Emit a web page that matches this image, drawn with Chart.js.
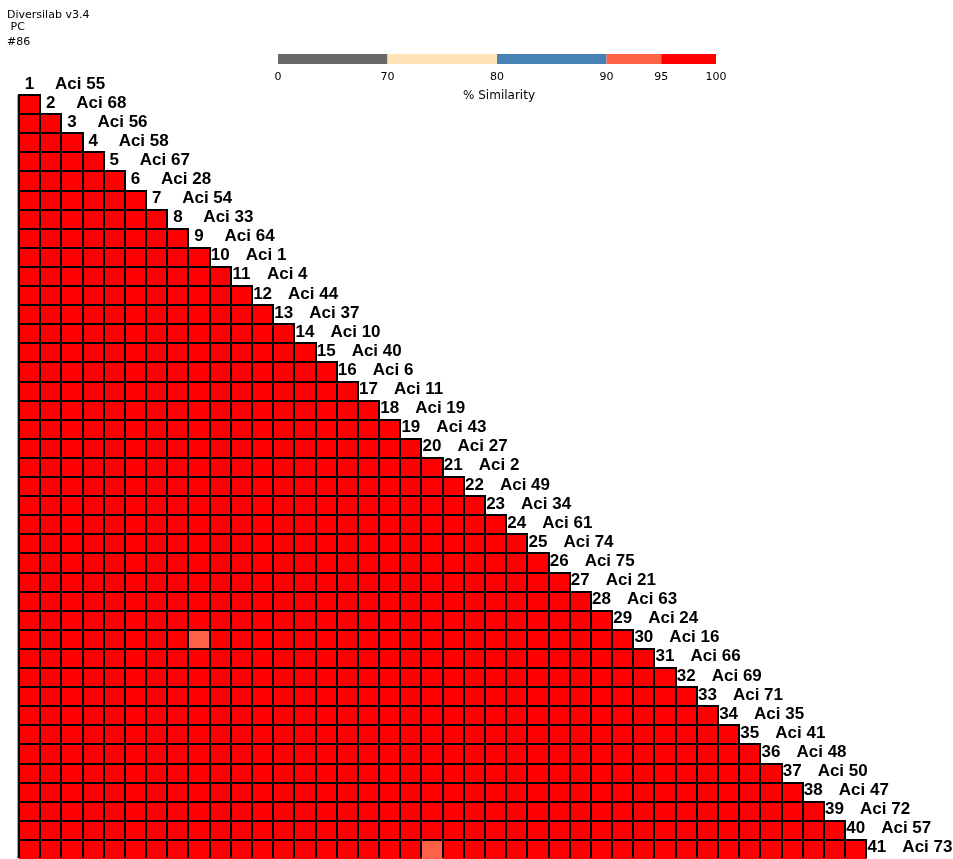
<!DOCTYPE html>
<html>
<head>
<meta charset="utf-8">
<title>Diversilab v3.4 – % Similarity</title>
<script src="https://cdn.jsdelivr.net/npm/chart.js@4/dist/chart.umd.min.js"></script>
<style>
  html, body { margin: 0; padding: 0; background: #ffffff; overflow: hidden; }
  #wrap { position: relative; width: 953px; height: 859px; overflow: hidden; }
  canvas { display: block; }
</style>
</head>
<body>
<div id="wrap"><canvas id="matrix" width="953" height="859"></canvas></div>
<script>
// Header lines
const headerLines = ['Diversilab v3.4', ' PC', '#86'];

// Isolate order (row number = position in this list)
const isolates = [
  'Aci 55', 'Aci 68', 'Aci 56', 'Aci 58', 'Aci 67', 'Aci 28', 'Aci 54', 'Aci 33', 'Aci 64', 'Aci 1',
  'Aci 4', 'Aci 44', 'Aci 37', 'Aci 10', 'Aci 40', 'Aci 6', 'Aci 11', 'Aci 19', 'Aci 43', 'Aci 27',
  'Aci 2', 'Aci 49', 'Aci 34', 'Aci 61', 'Aci 74', 'Aci 75', 'Aci 21', 'Aci 63', 'Aci 24', 'Aci 16',
  'Aci 66', 'Aci 69', 'Aci 71', 'Aci 35', 'Aci 41', 'Aci 48', 'Aci 50', 'Aci 47', 'Aci 72', 'Aci 57',
  'Aci 73'
];

// Similarity band edges and colours of the scale
const bandEdges = [0, 70, 80, 90, 95, 100];
const bandColors = ['#696969', '#FFE4B5', '#4682B4', '#FF6347', '#FF0000'];
const bandWidths = [2, 2, 2, 1, 1];

// Lower-triangle % similarity: row i holds isolate i versus isolates 1 .. i-1
const similarity = [
  [],
  [97],
  [97,97],
  [97,97,97],
  [97,97,97,97],
  [97,97,97,97,97],
  [97,97,97,97,97,97],
  [97,97,97,97,97,97,97],
  [97,97,97,97,97,97,97,97],
  [97,97,97,97,97,97,97,97,97],
  [97,97,97,97,97,97,97,97,97,97],
  [97,97,97,97,97,97,97,97,97,97, 97],
  [97,97,97,97,97,97,97,97,97,97, 97,97],
  [97,97,97,97,97,97,97,97,97,97, 97,97,97],
  [97,97,97,97,97,97,97,97,97,97, 97,97,97,97],
  [97,97,97,97,97,97,97,97,97,97, 97,97,97,97,97],
  [97,97,97,97,97,97,97,97,97,97, 97,97,97,97,97,97],
  [97,97,97,97,97,97,97,97,97,97, 97,97,97,97,97,97,97],
  [97,97,97,97,97,97,97,97,97,97, 97,97,97,97,97,97,97,97],
  [97,97,97,97,97,97,97,97,97,97, 97,97,97,97,97,97,97,97,97],
  [97,97,97,97,97,97,97,97,97,97, 97,97,97,97,97,97,97,97,97,97],
  [97,97,97,97,97,97,97,97,97,97, 97,97,97,97,97,97,97,97,97,97, 97],
  [97,97,97,97,97,97,97,97,97,97, 97,97,97,97,97,97,97,97,97,97, 97,97],
  [97,97,97,97,97,97,97,97,97,97, 97,97,97,97,97,97,97,97,97,97, 97,97,97],
  [97,97,97,97,97,97,97,97,97,97, 97,97,97,97,97,97,97,97,97,97, 97,97,97,97],
  [97,97,97,97,97,97,97,97,97,97, 97,97,97,97,97,97,97,97,97,97, 97,97,97,97,97],
  [97,97,97,97,97,97,97,97,97,97, 97,97,97,97,97,97,97,97,97,97, 97,97,97,97,97,97],
  [97,97,97,97,97,97,97,97,97,97, 97,97,97,97,97,97,97,97,97,97, 97,97,97,97,97,97,97],
  [97,97,97,97,97,97,97,97,97,97, 97,97,97,97,97,97,97,97,97,97, 97,97,97,97,97,97,97,97],
  [97,97,97,97,97,97,97,97,93,97, 97,97,97,97,97,97,97,97,97,97, 97,97,97,97,97,97,97,97,97],
  [97,97,97,97,97,97,97,97,97,97, 97,97,97,97,97,97,97,97,97,97, 97,97,97,97,97,97,97,97,97,97],
  [97,97,97,97,97,97,97,97,97,97, 97,97,97,97,97,97,97,97,97,97, 97,97,97,97,97,97,97,97,97,97, 97],
  [97,97,97,97,97,97,97,97,97,97, 97,97,97,97,97,97,97,97,97,97, 97,97,97,97,97,97,97,97,97,97, 97,97],
  [97,97,97,97,97,97,97,97,97,97, 97,97,97,97,97,97,97,97,97,97, 97,97,97,97,97,97,97,97,97,97, 97,97,97],
  [97,97,97,97,97,97,97,97,97,97, 97,97,97,97,97,97,97,97,97,97, 97,97,97,97,97,97,97,97,97,97, 97,97,97,97],
  [97,97,97,97,97,97,97,97,97,97, 97,97,97,97,97,97,97,97,97,97, 97,97,97,97,97,97,97,97,97,97, 97,97,97,97,97],
  [97,97,97,97,97,97,97,97,97,97, 97,97,97,97,97,97,97,97,97,97, 97,97,97,97,97,97,97,97,97,97, 97,97,97,97,97,97],
  [97,97,97,97,97,97,97,97,97,97, 97,97,97,97,97,97,97,97,97,97, 97,97,97,97,97,97,97,97,97,97, 97,97,97,97,97,97,97],
  [97,97,97,97,97,97,97,97,97,97, 97,97,97,97,97,97,97,97,97,97, 97,97,97,97,97,97,97,97,97,97, 97,97,97,97,97,97,97,97],
  [97,97,97,97,97,97,97,97,97,97, 97,97,97,97,97,97,97,97,97,97, 97,97,97,97,97,97,97,97,97,97, 97,97,97,97,97,97,97,97,97],
  [97,97,97,97,97,97,97,97,97,97, 97,97,97,97,97,97,97,97,97,93, 97,97,97,97,97,97,97,97,97,97, 97,97,97,97,97,97,97,97,97,97]
];

function colorFor(value) {
  for (let b = bandColors.length - 1; b >= 0; b--) {
    if (value >= bandEdges[b]) return bandColors[b];
  }
  return bandColors[0];
}

// One dataset per matrix column; each cell is one unit wide and the columns stack left to right
const columnCount = isolates.length - 1;
const rowLabels = isolates.map((_, i) => String(i + 1));
const datasets = [];
for (let c = 0; c < columnCount; c++) {
  datasets.push({
    label: 'col ' + (c + 1),
    data: similarity.map(row => (c < row.length ? 1 : null)),
    backgroundColor: ctx => {
      const row = similarity[ctx.dataIndex];
      return row && c < row.length ? colorFor(row[c]) : 'rgba(0,0,0,0)';
    }
  });
}

// Crisp 2px cell outlines, snapped to whole pixels from each bar element's geometry.
// The matrix runs on past the lower canvas edge, so the last row's bottom edge is clipped away.
const cellOutlines = {
  id: 'cellOutlines',
  afterDatasetsDraw(chart) {
    const { ctx } = chart;
    ctx.save();
    ctx.beginPath();
    ctx.rect(0, 0, chart.width, chart.height - 1);
    ctx.clip();
    ctx.strokeStyle = '#000000';
    ctx.lineWidth = 2;
    chart.data.datasets.forEach((ds, di) => {
      const meta = chart.getDatasetMeta(di);
      meta.data.forEach((el, idx) => {
        if (ds.data[idx] === null) return;
        const p = el.getProps(['x', 'y', 'base', 'height'], true);
        if (!isFinite(p.x) || !isFinite(p.base)) return;
        const l = Math.round(Math.min(p.x, p.base));
        const r = Math.round(Math.max(p.x, p.base));
        const t = Math.round(p.y - p.height / 2);
        const b = Math.round(p.y + p.height / 2);
        ctx.strokeRect(l, t, r - l, b - t);
      });
    });
    ctx.restore();
  }
};

// Text, colour scale and row labels around the matrix
const decorations = {
  id: 'decorations',
  beforeDatasetsDraw(chart) {
    const { ctx, chartArea, scales } = chart;
    const yS = scales.y;
    const rowH = (chartArea.bottom - chartArea.top) / isolates.length;
    const gridTop = Math.round(yS.getPixelForValue(1) - rowH / 2);
    ctx.save();
    ctx.fillStyle = '#a8a8a8';
    ctx.fillRect(Math.round(chartArea.left) - 2, gridTop, 1, chart.height - gridTop);
    ctx.restore();
  },
  afterDraw(chart) {
    const { ctx, chartArea, scales } = chart;
    const xS = scales.x, yS = scales.y;
    const rowH = (chartArea.bottom - chartArea.top) / isolates.length;
    ctx.save();

    // header
    ctx.fillStyle = '#000';
    ctx.font = '11px "DejaVu Sans"';
    ctx.textAlign = 'left';
    ctx.textBaseline = 'alphabetic';
    const hx = [7, 7, 7], hy = [18, 30, 45];
    headerLines.forEach((t, i) => ctx.fillText(t, hx[i], hy[i]));

    // colour scale bar
    const barLeft = 278, barRight = 716, barTop = 54, barH = 10;
    const unit = (barRight - barLeft) / bandWidths.reduce((a, b) => a + b, 0);
    let x = barLeft;
    const stops = [x];
    bandColors.forEach((col, i) => {
      const w = bandWidths[i] * unit;
      ctx.fillStyle = col;
      ctx.fillRect(x, barTop, w, barH);
      x += w;
      stops.push(x);
    });
    ctx.fillStyle = '#000';
    ctx.font = '11px "DejaVu Sans"';
    ctx.textAlign = 'center';
    bandEdges.forEach((v, i) => ctx.fillText(String(v), stops[i], 80));
    ctx.font = '12px "DejaVu Sans"';
    ctx.fillText('% Similarity', 499, 99);

    // row labels along the diagonal
    ctx.font = 'bold 17px "Liberation Sans", Arial, sans-serif';
    isolates.forEach((name, r) => {
      const top = yS.getPixelForValue(r) - rowH / 2;
      const base = top + 12.5;
      const cx = xS.getPixelForValue(r + 0.5);
      ctx.textAlign = 'center';
      ctx.fillText(String(r + 1), cx, base);
      ctx.textAlign = 'left';
      ctx.fillText(name, cx + 25.5, base);
    });
    ctx.restore();
  }
};

new Chart(document.getElementById('matrix'), {
  type: 'bar',
  data: { labels: rowLabels, datasets },
  options: {
    indexAxis: 'y',
    responsive: false,
    animation: false,
    devicePixelRatio: 1,
    layout: { padding: { left: 19, top: 76, right: 2, bottom: 0 } },
    scales: {
      x: { type: 'linear', min: 0, max: 44, stacked: true, display: false },
      y: { type: 'category', stacked: true, display: false }
    },
    datasets: {
      bar: {
        categoryPercentage: 1,
        barPercentage: 1,
        borderWidth: 0,
        borderSkipped: false,
        inflateAmount: 0.5
      }
    },
    plugins: {
      legend: { display: false },
      tooltip: { enabled: false },
      title: { display: false }
    }
  },
  plugins: [cellOutlines, decorations]
});
</script>
</body>
</html>
